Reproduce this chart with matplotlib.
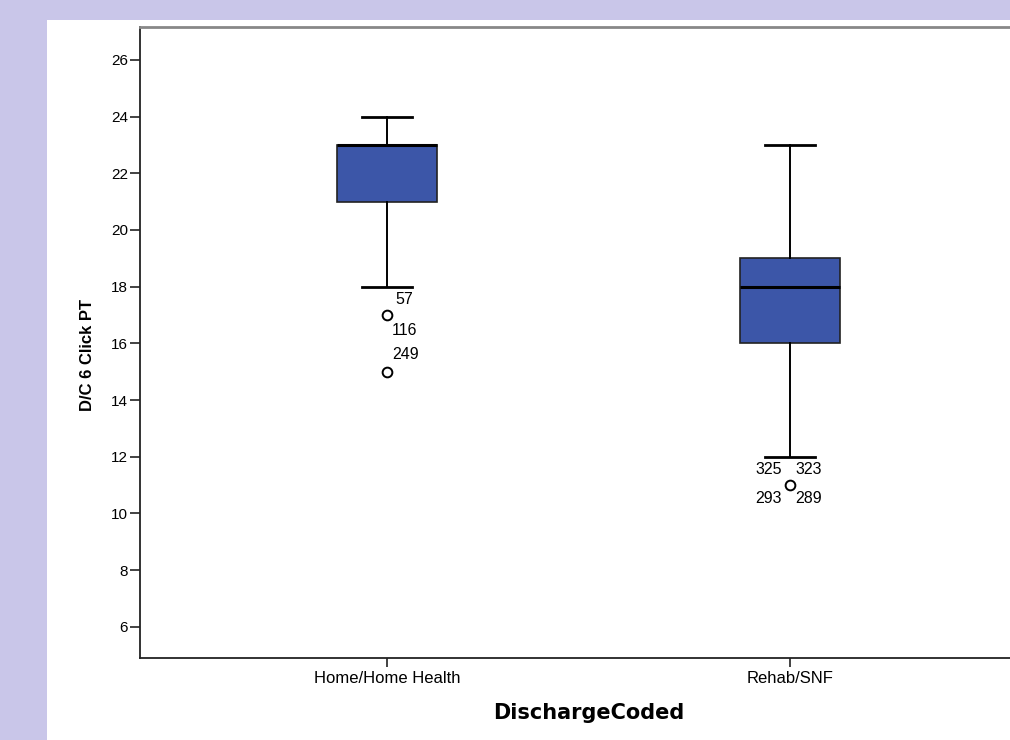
import matplotlib.pyplot as plt
from matplotlib.patches import Rectangle

categories = ["Home/Home Health", "Rehab/SNF"]
q1 = [21, 16]
median = [23, 18]
q3 = [23, 19]
whisker_low = [18, 12]
whisker_high = [24, 23]
outliers = [[17, 15], [11]]
# outlier case ids: (category index, value, label, dx px, dy px)
outlier_labels = [
    (0, 17, "57", 8, 16),
    (0, 17, "116", 5, -15),
    (0, 15, "249", 5, 17),
    (1, 11, "325", -35, 16),
    (1, 11, "323", 5, 16),
    (1, 11, "293", -35, -13),
    (1, 11, "289", 5, -13),
]
yticks = list(range(6, 27, 2))

plt.rcParams['font.family'] = ['Liberation Sans', 'DejaVu Sans']

fig = plt.figure(figsize=(10.1, 7.4), dpi=100)
fig.patch.set_facecolor("#c9c6e9")
# white panel behind the chart
fig.patches.append(Rectangle((47 / 1010, 0), 1, 720 / 740, transform=fig.transFigure,
                             facecolor="white", edgecolor="none", zorder=-5))

ax = fig.add_axes([140 / 1010, 82 / 740, 897 / 1010, 631 / 740])
ax.set_facecolor("white")

stats = []
for i, name in enumerate(categories):
    stats.append({"label": name, "q1": q1[i], "med": median[i], "q3": q3[i],
                  "whislo": whisker_low[i], "whishi": whisker_high[i],
                  "fliers": outliers[i]})

ax.bxp(stats, positions=[1, 2], widths=0.248, patch_artist=True,
       boxprops=dict(facecolor="#3c56a8", edgecolor="#222222", linewidth=1.2),
       medianprops=dict(color="black", linewidth=2.2),
       whiskerprops=dict(color="black", linewidth=1.4),
       capprops=dict(color="black", linewidth=2.0),
       capwidths=0.124,
       flierprops=dict(marker="o", markersize=7, markerfacecolor="white",
                       markeredgecolor="black", markeredgewidth=1.4))

for i, val, lab, dx, dy in outlier_labels:
    ax.annotate(lab, (i + 1, val), xytext=(dx, dy), textcoords="offset pixels",
                fontsize=11.5, va="center", ha="left")

ax.set_xlim(0.387, 2.613)
ax.set_ylim(4.9, 27.16)
ax.set_yticks(yticks)
ax.set_xticks([1, 2])
ax.set_xticklabels(categories)
ax.tick_params(axis="both", labelsize=11, width=1.2, color="#222222")
ax.tick_params(axis="x", labelsize=12, length=6.5, pad=3)
ax.tick_params(axis="y", length=7.5, pad=1)

for side in ["left", "bottom"]:
    ax.spines[side].set_linewidth(1.3)
    ax.spines[side].set_color("#222222")
ax.spines["top"].set_color("#888888")
ax.spines["top"].set_linewidth(2)

ax.set_xlabel("DischargeCoded", fontsize=15, fontweight="bold", labelpad=12,
              family=["DejaVu Sans"])
ax.set_ylabel("D/C 6 Click PT", fontsize=12, fontweight="bold")
ax.yaxis.set_label_coords(-0.05, 0.48)

fig.savefig("out.png", dpi=100, facecolor=fig.get_facecolor())
